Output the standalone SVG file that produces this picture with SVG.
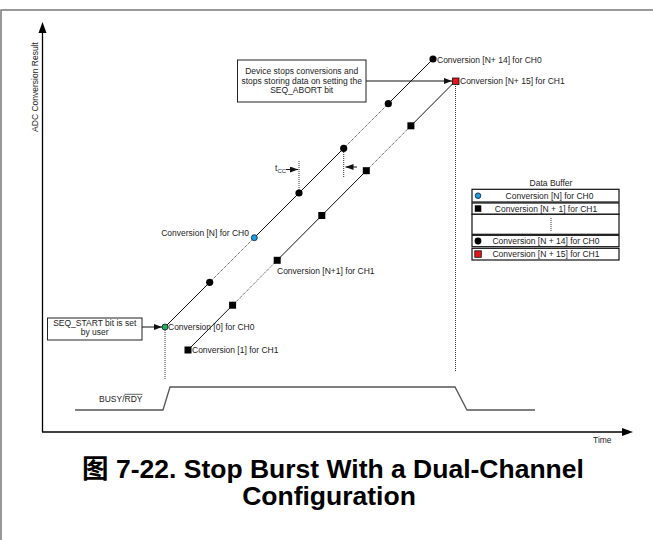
<svg xmlns="http://www.w3.org/2000/svg" width="653" height="540" viewBox="0 0 653 540">
<defs>
<style>
text{font-family:"Liberation Sans","Noto Sans CJK SC",sans-serif;font-size:8.5px;fill:#222}
.cap{font-size:26.5px;font-weight:bold;fill:#000}
.sol{stroke:#111;stroke-width:1;fill:none}
.dot{stroke:#333;stroke-width:1;stroke-dasharray:1 1;fill:none}
.box{fill:#fff;stroke:#222;stroke-width:1}
.tb{fill:#fff;stroke:#111;stroke-width:1.2}
.sig{stroke:#555;stroke-width:1.3;fill:none}
.arr{stroke:#111;stroke-width:1;fill:none;marker-end:url(#ah)}
.bc{fill:#000}
.bs{fill:#000}
</style>
<marker id="ah" viewBox="0 0 8 6" refX="8" refY="3" markerWidth="8" markerHeight="6" orient="auto" markerUnits="userSpaceOnUse"><path d="M0,0 L8,3 L0,6 z" fill="#111"/></marker>
</defs>
<rect width="653" height="540" fill="#fff"/>
<polyline points="1,540 1,10 653,10" fill="none" stroke="#777" stroke-width="1.5"/>

<g id="axes">
<line x1="42.5" y1="432" x2="42.5" y2="33" stroke="#000" stroke-width="1.3"/>
<polygon points="38.5,33 42.5,22 46.5,33" fill="#000"/>
<line x1="42" y1="432" x2="622" y2="432" stroke="#000" stroke-width="1.3"/>
<polygon points="622,428 633,432 622,436" fill="#000"/>
<text transform="translate(38,87) rotate(-90)" text-anchor="middle">ADC Conversion Result</text>
<text x="593" y="443">Time</text>
</g>

<g id="connectors">
<line class="sol" x1="165" y1="327" x2="209.7" y2="282.3"/>
<line class="dot" x1="209.7" y1="282.3" x2="254.3" y2="237.7"/>
<line class="sol" x1="254.3" y1="237.7" x2="343.7" y2="148.3"/>
<line class="dot" x1="343.7" y1="148.3" x2="388.3" y2="103.7"/>
<line class="sol" x1="388.3" y1="103.7" x2="433" y2="59"/>
<line class="sol" x1="188" y1="350" x2="232.6" y2="305.2"/>
<line class="dot" x1="232.6" y1="305.2" x2="277.2" y2="260.3"/>
<line class="sol" x1="277.2" y1="260.3" x2="366.3" y2="170.7"/>
<line class="dot" x1="366.3" y1="170.7" x2="410.9" y2="125.8"/>
<line class="sol" x1="410.9" y1="125.8" x2="455.5" y2="81"/>
<line class="dot" x1="165" y1="330" x2="165" y2="380"/>
<line class="dot" x1="455.5" y1="84" x2="455.5" y2="372"/>
<line class="dot" x1="299" y1="161" x2="299" y2="193"/>
<line class="dot" x1="343.7" y1="148" x2="343.7" y2="177"/>
<line class="arr" x1="142" y1="327" x2="162" y2="327"/>
<line class="arr" x1="366" y1="81" x2="452" y2="81"/>
<line class="arr" x1="286" y1="169.5" x2="298" y2="169.5"/>
<line class="arr" x1="357" y1="167" x2="345.5" y2="167"/>
<polyline class="sig" points="75,410 163,410 170,387 455,387 467,410 535,410"/>
</g>

<g id="ch0-points">
<circle cx="165" cy="327" r="3" fill="#22b14c" stroke="#114" stroke-width="0.8"/>
<circle class="bc" cx="209.7" cy="282.3" r="3.6"/>
<circle cx="254.3" cy="237.7" r="3" fill="#1ba1e2" stroke="#113" stroke-width="0.8"/>
<circle class="bc" cx="299" cy="193" r="3.6"/>
<circle class="bc" cx="343.7" cy="148.3" r="3.6"/>
<circle class="bc" cx="388.3" cy="103.7" r="3.6"/>
<circle class="bc" cx="433" cy="59" r="3.6"/>
</g>
<g id="ch1-points">
<rect class="bs" x="184.5" y="346.5" width="7" height="7"/>
<rect class="bs" x="229.1" y="301.7" width="7" height="7"/>
<rect class="bs" x="273.7" y="256.8" width="7" height="7"/>
<rect class="bs" x="318.3" y="212" width="7" height="7"/>
<rect class="bs" x="362.8" y="167.2" width="7" height="7"/>
<rect class="bs" x="407.4" y="122.3" width="7" height="7"/>
<rect x="452.5" y="78" width="6.5" height="6.5" fill="#e8141c" stroke="#111" stroke-width="0.8"/>
</g>

<g id="labels">
<text x="437" y="63">Conversion [N+ 14] for CH0</text>
<text x="460" y="84">Conversion [N+ 15] for CH1</text>
<text x="249" y="236.3" text-anchor="end">Conversion [N] for CH0</text>
<text x="277" y="273.7">Conversion [N+1] for CH1</text>
<text x="168" y="330">Conversion [0] for CH0</text>
<text x="192" y="353">Conversion [1] for CH1</text>
<text x="275" y="171">t<tspan font-size="6" dy="1.5">CC</tspan></text>
</g>

<g id="abort-note">
<rect class="box" x="237.5" y="60" width="128.5" height="42"/>
<text x="301.7" y="74" text-anchor="middle">Device stops conversions and</text>
<text x="301.7" y="83.7" text-anchor="middle">stops storing data on setting the</text>
<text x="301.7" y="93.4" text-anchor="middle">SEQ_ABORT bit</text>
</g>

<g id="seq-start">
<rect class="box" x="47.5" y="318" width="94.5" height="22"/>
<text x="94.7" y="325.8" text-anchor="middle">SEQ_START bit is set</text>
<text x="94.7" y="335.4" text-anchor="middle">by user</text>
</g>

<g id="data-buffer">
<text x="551" y="186" text-anchor="middle">Data Buffer</text>
<rect class="tb" x="472" y="189.3" width="147" height="12.7"/>
<rect class="tb" x="472" y="203" width="147" height="11.3"/>
<rect class="tb" x="472" y="214.3" width="147" height="20"/>
<rect class="tb" x="472" y="235.3" width="147" height="11.4"/>
<rect class="tb" x="472" y="248.3" width="147" height="11.7"/>
<circle cx="478" cy="195.7" r="2.8" fill="#1ba1e2" stroke="#113" stroke-width="0.8"/>
<rect x="474.8" y="205.3" width="6.5" height="6.5" fill="#000"/>
<line class="dot" x1="551" y1="218" x2="551" y2="231"/>
<circle cx="478" cy="241" r="3.4" fill="#000"/>
<rect x="474.8" y="250.8" width="6.5" height="6.5" fill="#e8141c" stroke="#111" stroke-width="0.8"/>
<text x="549.5" y="198.7" text-anchor="middle">Conversion [N] for CH0</text>
<text x="546" y="211.7" text-anchor="middle">Conversion [N + 1] for CH1</text>
<text x="546" y="244" text-anchor="middle">Conversion [N + 14] for CH0</text>
<text x="546" y="257.2" text-anchor="middle">Conversion [N + 15] for CH1</text>
</g>

<g id="busy-label">
<text x="99" y="402">BUSY/RDY</text>
<line x1="124.5" y1="394.3" x2="142.5" y2="394.3" stroke="#222" stroke-width="0.7"/>
</g>

<g id="caption">
<text class="cap" x="333" y="478" text-anchor="middle">图 7-22. Stop Burst With a Dual-Channel</text>
<text class="cap" x="329" y="505" text-anchor="middle">Configuration</text>
</g>
</svg>
